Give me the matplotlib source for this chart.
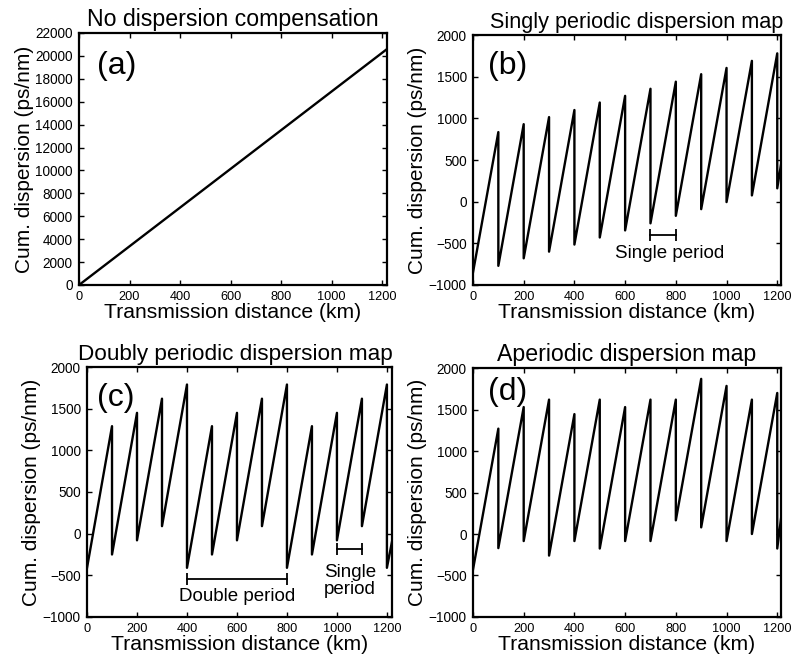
import matplotlib
matplotlib.use("Agg")
import matplotlib.pyplot as plt
import numpy as np

plt.rcParams['font.family'] = ['Liberation Sans', 'DejaVu Sans']

# amplifier span boundaries (km)
span_ends = [100, 200, 300, 400, 500, 600, 700, 800, 900, 1000, 1100, 1200]

# (a) uncompensated: cumulative dispersion grows linearly
dist_a = [0, 1220]
disp_a = [0, 20600]

# (b) singly periodic map: value at end of each span before / after compensation
start_b = -850
peaks_b = [835, 930, 1015, 1100, 1190, 1270, 1355, 1440, 1530, 1605, 1690, 1780]
troughs_b = [-770, -680, -600, -515, -430, -345, -260, -170, -90, -5, 75, 160]
end_b = (1215, 450)

# (c) doubly periodic map
start_c = -410
peaks_c = [1290, 1450, 1620, 1790, 1290, 1450, 1620, 1790, 1290, 1450, 1620, 1790]
troughs_c = [-250, -80, 90, -410, -250, -80, 90, -410, -250, -80, 90, -410]
end_c = (1220, -100)

# (d) aperiodic map
start_d = -430
peaks_d = [1270, 1530, 1620, 1445, 1620, 1530, 1620, 1620, 1870, 1785, 1620, 1700]
troughs_d = [-170, -85, -260, -85, -175, -85, -85, 165, 80, -85, 0, -175]
end_d = (1215, 190)


def sawtooth(start, peaks, troughs, end):
    xs, ys = [0], [start]
    for x, p, t in zip(span_ends, peaks, troughs):
        xs += [x, x]
        ys += [p, t]
    xs.append(end[0])
    ys.append(end[1])
    return xs, ys


def style(ax, title, tag, tag_pos, ylim, yticks, xmax, title_size=16.7, title_x=0.5):
    ax.set_xlim(0, xmax)
    ax.set_ylim(*ylim)
    ax.set_xticks([0, 200, 400, 600, 800, 1000, 1200])
    ax.set_yticks(yticks)
    ax.tick_params(direction='in', top=True, right=True, length=3.5, width=1.0)
    ax.tick_params(axis='x', labelsize=9.2, pad=4)
    ax.tick_params(axis='y', labelsize=9.8, pad=4.5)
    for s in ax.spines.values():
        s.set_linewidth(1.6)
    ax.set_title(title, fontsize=title_size, pad=5, x=title_x)
    ax.set_xlabel('Transmission distance (km)', fontsize=15.2, labelpad=0)
    ax.set_ylabel('Cum. dispersion (ps/nm)', fontsize=15, labelpad=1)
    ax.text(tag_pos[0], tag_pos[1], tag, transform=ax.transAxes, fontsize=23,
            va='center', ha='left')


def bracket(ax, x0, x1, y):
    ax.plot([x0, x1], [y, y], color='black', lw=1.3, marker='|',
            markersize=9, markeredgewidth=1.3)


fig = plt.figure(figsize=(7.94, 6.62), dpi=100)
ax_a = fig.add_axes([0.0995, 0.5695, 0.388, 0.3807])
ax_b = fig.add_axes([0.5957, 0.5695, 0.388, 0.3776])
ax_c = fig.add_axes([0.1096, 0.068, 0.384, 0.3776])
ax_d = fig.add_axes([0.5957, 0.068, 0.388, 0.376])

line_kw = dict(color='black', lw=1.7)

ax_a.plot(dist_a, disp_a, **line_kw)
style(ax_a, 'No dispersion compensation', '(a)', (0.058, 0.87), (0, 22000),
      np.arange(0, 22001, 2000), 1220)

ax_b.plot(*sawtooth(start_b, peaks_b, troughs_b, end_b), **line_kw)
style(ax_b, 'Singly periodic dispersion map', '(b)', (0.049, 0.876),
      (-1000, 2000), np.arange(-1000, 2001, 500), 1215,
      title_size=15.6, title_x=0.53)
bracket(ax_b, 700, 800, -400)
ax_b.text(775, -620, 'Single period', fontsize=13.5, ha='center', va='center')

ax_c.plot(*sawtooth(start_c, peaks_c, troughs_c, end_c), **line_kw)
style(ax_c, 'Doubly periodic dispersion map', '(c)', (0.033, 0.876),
      (-1000, 2000), np.arange(-1000, 2001, 500), 1220,
      title_size=16.2, title_x=0.485)
bracket(ax_c, 400, 800, -540)
ax_c.text(600, -760, 'Double period', fontsize=13.5, ha='center', va='center')
bracket(ax_c, 1000, 1100, -190)
ax_c.text(1052, -568, 'Single\nperiod', fontsize=13.5, ha='center',
          va='center', linespacing=1.05)

ax_d.plot(*sawtooth(start_d, peaks_d, troughs_d, end_d), **line_kw)
style(ax_d, 'Aperiodic dispersion map', '(d)', (0.049, 0.905),
      (-1000, 2000), np.arange(-1000, 2001, 500), 1215)

fig.savefig('out.png', dpi=100)
